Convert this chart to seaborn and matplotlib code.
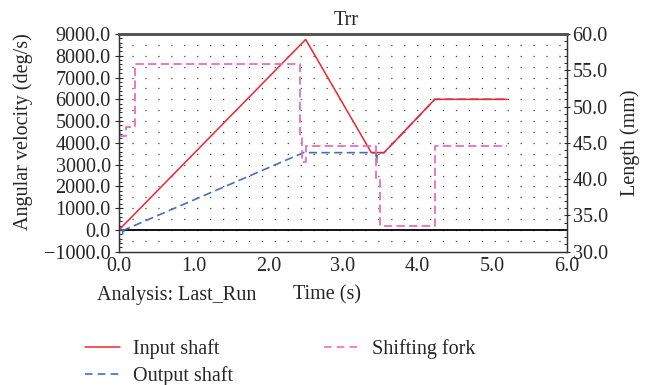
import numpy as np
import pandas as pd
import matplotlib
matplotlib.use('Agg')
import matplotlib.pyplot as plt
import seaborn as sns
from matplotlib.lines import Line2D

# dados
t_input = [0.0, 2.5, 3.38, 3.55, 4.23, 5.2]
w_input = [0, 8750, 3550, 3550, 6000, 6000]

t_output = [0.0, 0.05, 0.05, 0.07, 2.47, 3.44, 3.45, 3.46, 3.55, 4.23, 5.2]
w_output = [0, 0, -250, 0, 3550, 3550, 3100, 3550, 3550, 6000, 6000]

t_fork = [0.0, 0.1, 0.1, 0.21, 0.21, 2.42, 2.42, 2.45, 2.45, 2.5, 2.5,
          3.44, 3.44, 3.49, 3.49, 4.23, 4.23, 5.2]
l_fork = [46.0, 46.0, 47.2, 47.2, 55.9, 55.9, 45.8, 45.8, 42.4, 42.4, 44.6,
          44.6, 40.2, 40.2, 33.6, 33.6, 44.6, 44.6]

x_ticks = [0, 1, 2, 3, 4, 5, 6]
y_ticks = list(range(-1000, 9001, 1000))
y2_ticks = [30, 35, 40, 45, 50, 55, 60]

df_in = pd.DataFrame({'t': t_input, 'w': w_input})
df_out = pd.DataFrame({'t': t_output, 'w': w_output})
df_fork = pd.DataFrame({'t': t_fork, 'l': l_fork})

sns.set_style("white")
plt.rcParams['font.family'] = ['Liberation Serif', 'DejaVu Serif']
fs = 14.5

fig = plt.figure(figsize=(6.48, 3.85), dpi=100)
ax = fig.add_axes([0.1836, 0.3462, 0.6914, 0.5655])
ax2 = ax.twinx()

red = '#ef262c'
blue = '#4470c2'
pink = '#e670bb'

# grade pontilhada: pontos a cada 1/6 s e 500 deg/s
for yv in np.arange(-500, 9000, 500):
    ax.plot([0, 6], [yv, yv], color='#444444', lw=0.9,
            linestyle=(0, (1, 9.35)), zorder=0)
ax.axhline(0, color='black', lw=1.3, zorder=1)

sns.lineplot(data=df_in, x='t', y='w', ax=ax, color=red, lw=1.1,
             sort=False, estimator=None, zorder=3)
sns.lineplot(data=df_out, x='t', y='w', ax=ax, color=blue, lw=1.2,
             sort=False, estimator=None, zorder=2, linestyle=(0, (5, 2.6)))
sns.lineplot(data=df_fork, x='t', y='l', ax=ax2, color=pink, lw=1.3,
             sort=False, estimator=None, linestyle=(0, (4.6, 2.4)))

ax.set_xlim(0, 6)
ax.set_ylim(-1000, 9000)
ax2.set_ylim(30, 60)
ax.set_xticks(x_ticks)
ax.set_xticklabels([f'{v:.1f}' for v in x_ticks])
ax.set_yticks(y_ticks)
ax.set_yticklabels([f'{v:.1f}'.replace('-', '\u2212') for v in y_ticks])
ax2.set_yticks(y2_ticks)
ax2.set_yticklabels([f'{v:.1f}' for v in y2_ticks])
ax.set_xticks(np.arange(0.5, 6, 1.0), minor=True)
ax.set_yticks([v for v in range(-800, 9000, 200) if v % 1000 != 0], minor=True)
ax2.set_yticks([v for v in range(31, 60) if v % 5 != 0], minor=True)

ax.tick_params(axis='x', which='both', direction='in', length=2.5,
               width=0.8, labelsize=fs, pad=4)
ax.tick_params(axis='y', which='major', direction='inout', length=6,
               width=0.8, labelsize=fs, pad=3)
ax.tick_params(axis='y', which='minor', direction='in', length=2.2, width=0.7)
ax2.tick_params(axis='y', which='major', direction='inout', length=5,
                width=0.8, labelsize=fs, pad=1.5)
ax2.tick_params(axis='y', which='minor', direction='in', length=2.2, width=0.7)

for a in (ax, ax2):
    for s in a.spines.values():
        s.set_color('#333333')
        s.set_linewidth(0.9)
    a.spines['top'].set_linewidth(2.0)
    a.spines['top'].set_color('#555555')

ax.set_xlabel('')
ax.set_ylabel('Angular velocity (deg/s)', fontsize=fs)
ax.yaxis.set_label_coords(-0.192, 0.55)
ax2.set_ylabel('Length (mm)', fontsize=fs, labelpad=9)
ax.set_title('Trr', fontsize=fs, pad=6.5, x=0.508)

fig.text(0.1497, 0.221, 'Analysis: Last_Run', fontsize=fs, va='baseline')
fig.text(0.505, 0.221, 'Time (s)', fontsize=fs, va='baseline', ha='center')

handles = [Line2D([], [], color=red, lw=1.1),
           Line2D([], [], color=blue, lw=1.2, linestyle=(0, (4.5, 3.2))),
           Line2D([], [], color=pink, lw=1.2, linestyle=(0, (4.5, 3.2)))]
labels = ['Input shaft', 'Output shaft', 'Shifting fork']
fig.legend(handles, labels, ncol=2, loc='upper left',
           bbox_to_anchor=(0.131, 0.119), frameon=False, fontsize=fs,
           handlelength=1.75, columnspacing=4.5, labelspacing=0.35,
           borderpad=0, borderaxespad=0, handletextpad=0.65)

fig.savefig('out.png', dpi=100)
